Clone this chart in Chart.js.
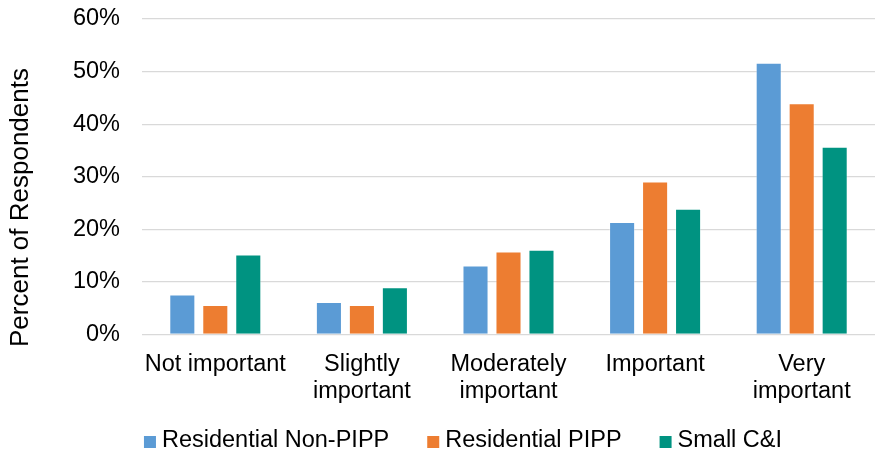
<!DOCTYPE html>
<html>
<head>
<meta charset="utf-8">
<script src="https://cdn.jsdelivr.net/npm/chart.js@4/dist/chart.umd.min.js"></script>
<style>
  html, body { margin: 0; padding: 0; background: #ffffff; }
  #wrap { width: 875px; height: 453px; position: relative; }
</style>
</head>
<body>
<div id="wrap"><canvas id="chart"></canvas></div>
<script>
// Importance ratings by customer group (percent of respondents)
const categories = [
  'Not important',
  ['Slightly', 'important'],
  ['Moderately', 'important'],
  'Important',
  ['Very', 'important']
];
const residentialNonPipp = [7.6, 6.2, 13.1, 21.4, 51.7];
const residentialPipp    = [5.6, 5.6, 15.8, 29.1, 44.0];
const smallCI            = [15.2, 9.0, 16.1, 23.9, 35.7];
const seriesNames = ['Residential Non-PIPP', 'Residential PIPP', 'Small C&I'];
const seriesColors = ['#5B9BD5', '#ED7D31', '#009381'];
const yTicks = [0, 10, 20, 30, 40, 50, 60];
const yTitle = 'Percent of Respondents';

const FONT = '"Liberation Sans", Arial, Helvetica, sans-serif';

function makeSet(i, values) {
  return {
    label: seriesNames[i],
    data: values,
    backgroundColor: seriesColors[i],
    borderColor: 'rgba(255,255,255,0.35)',
    borderWidth: 1,
    categoryPercentage: 0.675,
    barPercentage: 0.79
  };
}

// Vertical axis caption, placed a little below the middle of the plot
const axisCaption = {
  id: 'axisCaption',
  afterDraw(chart, args, opts) {
    const ctx = chart.ctx;
    ctx.save();
    ctx.translate(opts.x, opts.y);
    ctx.rotate(-Math.PI / 2);
    ctx.font = opts.size + 'px ' + FONT;
    ctx.fillStyle = '#000000';
    ctx.textAlign = 'center';
    ctx.textBaseline = 'middle';
    ctx.fillText(opts.text, 0, 0);
    ctx.restore();
  }
};

// Single-row legend built from the datasets: square swatch + label
const rowLegend = {
  id: 'rowLegend',
  afterDraw(chart, args, opts) {
    const ctx = chart.ctx;
    ctx.save();
    ctx.font = opts.size + 'px ' + FONT;
    const items = chart.data.datasets.map(ds => ({
      text: ds.label,
      color: ds.backgroundColor,
      w: ctx.measureText(ds.label).width
    }));
    const total = items.reduce((s, it) => s + opts.box + opts.boxGap + it.w, 0)
      + opts.itemGap * (items.length - 1);
    let x = opts.centerX - total / 2;
    ctx.textBaseline = 'middle';
    ctx.textAlign = 'left';
    items.forEach(it => {
      ctx.fillStyle = it.color;
      ctx.fillRect(x, opts.y - opts.box / 2 + 1, opts.box, opts.box);
      ctx.fillStyle = '#000000';
      ctx.fillText(it.text, x + opts.box + opts.boxGap, opts.y);
      x += opts.box + opts.boxGap + it.w + opts.itemGap;
    });
    ctx.restore();
  }
};

new Chart(document.getElementById('chart'), {
  type: 'bar',
  data: {
    labels: categories,
    datasets: [
      makeSet(0, residentialNonPipp),
      makeSet(1, residentialPipp),
      makeSet(2, smallCI)
    ]
  },
  plugins: [axisCaption, rowLegend],
  options: {
    responsive: true,
    maintainAspectRatio: false,
    animation: false,
    devicePixelRatio: 1,
    layout: { padding: { top: 19, right: 0, bottom: 0, left: 0 } },
    plugins: {
      tooltip: { enabled: false },
      legend: { display: false },
      axisCaption: { text: yTitle, x: 21, y: 207.5, size: 26 },
      rowLegend: { size: 23.5, box: 12, boxGap: 6, itemGap: 38, centerX: 463, y: 441 }
    },
    scales: {
      x: {
        grid: { display: false, drawTicks: false },
        border: { display: false },
        ticks: {
          color: '#000000',
          padding: 17,
          maxRotation: 0,
          autoSkip: false,
          font: { family: FONT, size: 23.5, lineHeight: 1.13 }
        },
        afterFit: (scale) => { scale.height = 118.5; }
      },
      y: {
        min: 0,
        max: 60,
        afterBuildTicks: (scale) => { scale.ticks = yTicks.map(v => ({ value: v })); },
        grid: {
          color: '#D9D9D9',
          lineWidth: 1.3,
          drawTicks: true,
          tickLength: 22,
          tickColor: 'rgba(0,0,0,0)'
        },
        border: { display: false },
        ticks: {
          color: '#000000',
          padding: 0,
          font: { family: FONT, size: 23.5 },
          callback: (v) => v + '%'
        },
        afterFit: (scale) => { scale.width = 142; }
      }
    }
  }
});
</script>
</body>
</html>
